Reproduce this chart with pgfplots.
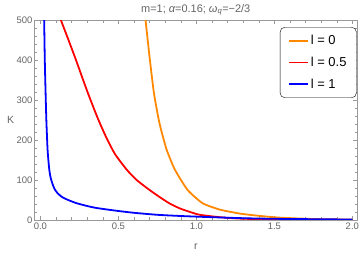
\documentclass[border=0pt]{standalone}
\usepackage{fontspec}
\setmainfont{Liberation Sans}
\usepackage{pgfplots}
\pgfplotsset{compat=1.18}
\definecolor{mgray}{RGB}{153,153,153}
\definecolor{tgray}{RGB}{100,100,100}
\definecolor{morange}{RGB}{255,136,0}
\begin{document}
\begin{tikzpicture}
\useasboundingbox (-34.5bp,-37bp) rectangle (325.5bp,220bp);
\begin{axis}[
  at={(0,0)}, anchor=south west,
  scale only axis, width=322.5bp, height=200bp,
  xmin=-0.038, xmax=2.03, ymin=0, ymax=500,
  axis line style={mgray},
  every tick/.style={mgray},
  tick align=inside,
  major tick length=4bp, minor tick length=2.5bp,
  xtick={0,0.5,1,1.5,2}, minor x tick num=4,
  ytick={0,100,200,300,400,500}, minor y tick num=4,
  xticklabel style={/pgf/number format/.cd,fixed,fixed zerofill,precision=1},
  /pgf/number format/assume math mode=true,
  tick label style={font=\fontsize{9.5}{11}\selectfont, text=tgray},
  xticklabel shift=-1bp, yticklabel shift=-1.5bp,
  scaled ticks=false,
  xlabel={r}, ylabel={K},
  label style={font=\fontsize{10.5}{12}\selectfont, text=tgray},
  xlabel style={at={(axis description cs:0.5,0)}, anchor=center, yshift=-27bp},
  ylabel style={at={(axis description cs:0,0.5)}, anchor=center, rotate=-90, xshift=-24bp},
  legend style={at={(axis description cs:0.999,0.965)}, anchor=north east, draw=black, rounded corners=5pt, fill=white,
     font=\fontsize{13}{15}\selectfont, row sep=7bp, inner xsep=8bp, inner ysep=6bp, cells={anchor=west}},
  line join=round,
  clip mode=individual,
]
\addlegendimage{morange, line width=1.8pt, legend image code/.code={\draw[morange, line width=1.8pt] (0bp,0bp) -- (19bp,0bp);}}
\addlegendentry{l = 0}
\addlegendimage{red, line width=1.8pt, legend image code/.code={\draw[red, line width=1.8pt] (0bp,0bp) -- (19bp,0bp);}}
\addlegendentry{l = 0.5}
\addlegendimage{blue, line width=1.8pt, legend image code/.code={\draw[blue, line width=1.8pt] (0bp,0bp) -- (19bp,0bp);}}
\addlegendentry{l = 1}
\addplot[forget plot, morange, line width=1.8pt, smooth, tension=0.35] coordinates {
(0.674,500) (0.702,400) (0.728,317) (0.755,258) (0.774,225) (0.81,175) (0.862,126) (0.944,75) (1.04,42) (1.15,26) (1.28,16) (1.40,10.5) (1.53,6) (1.75,2.5) (2.0,1)
};
\addplot[forget plot, red, line width=1.8pt, smooth, tension=0.4] coordinates {
(0.131,500) (0.18,450) (0.228,400) (0.30,322) (0.367,255) (0.424,205) (0.478,165) (0.553,126) (0.617,100) (0.70,75) (0.766,57) (0.83,41) (0.894,29) (0.96,20) (1.022,13) (1.15,7) (1.28,3.5) (1.5,1.2) (1.75,0.5) (2.0,0.2)
};
\addplot[forget plot, blue, line width=1.8pt, smooth, tension=0.4] coordinates {
(0.024,500) (0.028,400) (0.033,320) (0.038,250) (0.046,175) (0.057,125) (0.066,105) (0.076,92) (0.09,78) (0.11,67) (0.14,57) (0.178,50) (0.232,42) (0.3,35) (0.36,30) (0.49,23) (0.6,18) (0.75,13) (0.9,10) (1.065,7.5) (1.3,4.5) (1.5,3) (1.75,2) (2.0,1.2)
};
\node[font=\fontsize{11}{12}\selectfont, text=tgray, anchor=base, inner sep=0pt] at ([yshift=8bp]rel axis cs:0.5,1) {m=1; {\itshape α}=0.16; {\itshape ω}\textsubscript{\itshape q}=−2/3};
\end{axis}
\end{tikzpicture}
\end{document}
